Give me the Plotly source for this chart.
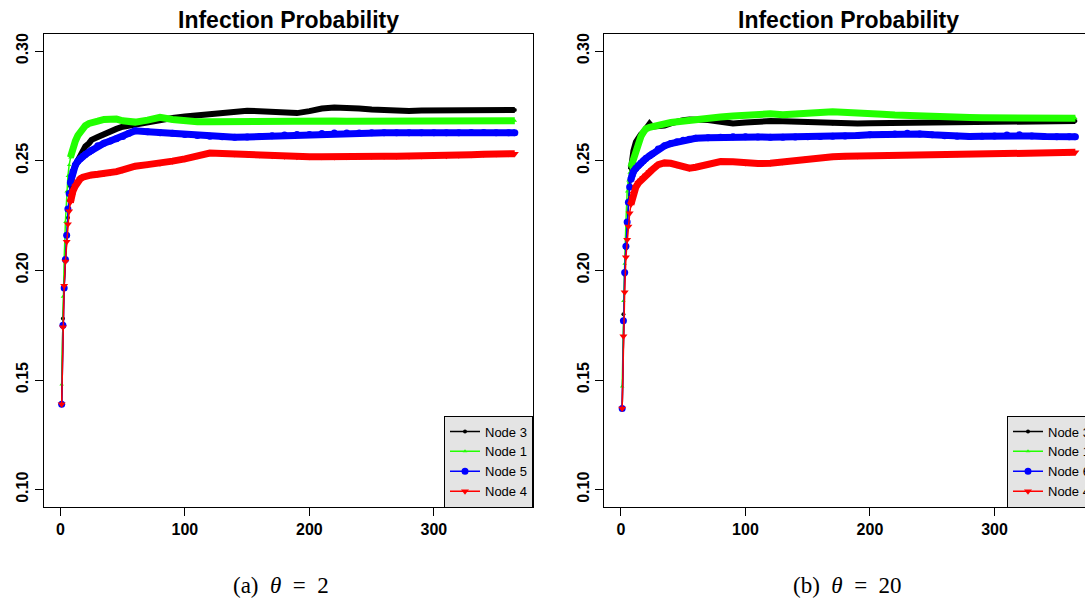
import plotly.graph_objects as go

# ---------------- data ----------------
X = [1, 2, 3, 4, 5, 6, 7, 8, 9, 10, 12, 14, 16, 18, 20, 23, 25, 30, 35, 40, 45, 50, 55, 60,
     70, 80, 90, 100, 110, 120, 130, 140, 150, 160, 170, 180, 190, 200, 210, 220, 230, 240,
     250, 260, 270, 280, 290, 300, 310, 320, 330, 340, 350, 360, 365]

# panel (a) theta = 2
L_node3 = [0.139, 0.178, 0.193, 0.205, 0.216, 0.224, 0.232, 0.238, 0.242, 0.245, 0.248, 0.2505,
           0.2525, 0.2545, 0.2565, 0.258, 0.2595, 0.2608, 0.2622, 0.2635, 0.2645, 0.2655, 0.266,
           0.2668, 0.268, 0.2685, 0.2695, 0.2702, 0.2708, 0.2712, 0.2718, 0.2725, 0.2728, 0.2726,
           0.2722, 0.2718, 0.2717, 0.2726, 0.2738, 0.2743, 0.2742, 0.2738, 0.2733, 0.2729, 0.2728,
           0.2727, 0.2729, 0.273, 0.2731, 0.273, 0.2731, 0.2731, 0.2731, 0.2731, 0.2731]
L_node1 = [0.148, 0.188, 0.205, 0.222, 0.236, 0.243, 0.248, 0.2515, 0.254, 0.256, 0.259, 0.2615,
           0.2635, 0.265, 0.266, 0.267, 0.2675, 0.268, 0.2688, 0.2693, 0.269, 0.2682, 0.2675,
           0.2676, 0.2685, 0.2698, 0.2688, 0.268, 0.2678, 0.2678, 0.2679, 0.268, 0.268, 0.2679,
           0.2678, 0.2679, 0.268, 0.268, 0.2681, 0.2681, 0.268, 0.268, 0.268, 0.2681, 0.2681,
           0.2682, 0.2682, 0.2682, 0.2682, 0.2683, 0.2683, 0.2682, 0.2682, 0.2682, 0.2682]
L_node5 = [0.139, 0.175, 0.192, 0.205, 0.216, 0.228, 0.235, 0.24, 0.243, 0.245, 0.248, 0.2498,
           0.251, 0.252, 0.2528, 0.254, 0.2548, 0.2568, 0.258, 0.259, 0.26, 0.261, 0.2625,
           0.2636, 0.2632, 0.2628, 0.2625, 0.262, 0.2615, 0.2612, 0.2609, 0.2607, 0.2608, 0.261,
           0.2614, 0.2617, 0.2619, 0.262, 0.2624, 0.2626, 0.2626, 0.2626, 0.2627, 0.2627, 0.2627,
           0.2627, 0.2627, 0.2628, 0.2628, 0.2628, 0.2629, 0.2629, 0.2628, 0.2628, 0.2628]
L_node4 = [0.139, 0.174, 0.193, 0.204, 0.213, 0.221, 0.227, 0.231, 0.234, 0.236, 0.2385, 0.2405,
           0.2418, 0.2425, 0.243, 0.2432, 0.2435, 0.2438, 0.244, 0.2445, 0.245, 0.2458, 0.2468,
           0.2475, 0.2482, 0.2488, 0.2498, 0.2508, 0.2522, 0.2535, 0.2533, 0.253, 0.2528, 0.2526,
           0.2522, 0.252, 0.2518, 0.2518, 0.2518, 0.2517, 0.2518, 0.2519, 0.252, 0.252, 0.252,
           0.252, 0.2521, 0.2522, 0.2523, 0.2525, 0.2527, 0.2529, 0.2531, 0.2532, 0.2532]

# panel (b) theta = 20
R_node3 = [0.137, 0.18, 0.198, 0.21, 0.222, 0.232, 0.24, 0.246, 0.251, 0.2545, 0.2585, 0.2605,
           0.262, 0.263, 0.2645, 0.2668, 0.2655, 0.2655, 0.266, 0.267, 0.268, 0.2685, 0.2688,
           0.2688, 0.2686, 0.2678, 0.267, 0.2674, 0.2679, 0.2681, 0.268, 0.2678, 0.2675, 0.2672,
           0.267, 0.2669, 0.267, 0.2671, 0.2672, 0.2673, 0.2674, 0.2675, 0.2675, 0.2675, 0.2675,
           0.2676, 0.2677, 0.2678, 0.2679, 0.268, 0.268, 0.268, 0.2681, 0.2681, 0.2681]
R_node1 = [0.147, 0.186, 0.203, 0.222, 0.236, 0.241, 0.2445, 0.247, 0.249, 0.2505, 0.2545, 0.258,
           0.261, 0.263, 0.2645, 0.2652, 0.2656, 0.2662, 0.2668, 0.2674, 0.2678, 0.2681, 0.2684,
           0.2686, 0.2694, 0.2699, 0.2704, 0.2709, 0.2715, 0.2714, 0.271, 0.2711, 0.2715, 0.272,
           0.2723, 0.2722, 0.272, 0.2716, 0.2712, 0.2708, 0.2705, 0.2702, 0.27, 0.2699, 0.2698,
           0.2697, 0.2696, 0.2696, 0.2695, 0.2695, 0.2694, 0.2694, 0.2693, 0.2693, 0.2693]
R_node6 = [0.137, 0.177, 0.199, 0.211, 0.222, 0.231, 0.238, 0.2415, 0.2435, 0.245, 0.2465, 0.2478,
           0.249, 0.25, 0.251, 0.2522, 0.253, 0.2553, 0.2568, 0.2578, 0.2586, 0.2593, 0.2598,
           0.2602, 0.2605, 0.2607, 0.2609, 0.2609, 0.2608, 0.2607, 0.2607, 0.2608, 0.2609, 0.261,
           0.2611, 0.2613, 0.2615, 0.2618, 0.262, 0.2622, 0.2625, 0.2622, 0.2618, 0.2614, 0.2611,
           0.261, 0.2611, 0.2613, 0.2617, 0.2618, 0.2613, 0.261, 0.2609, 0.2609, 0.2609]
R_node4 = [0.137, 0.17, 0.19, 0.206, 0.214, 0.22, 0.226, 0.23, 0.233, 0.235, 0.238, 0.2398,
           0.241, 0.2422, 0.2433, 0.2448, 0.2458, 0.2482, 0.249, 0.2488, 0.248, 0.2472, 0.2466,
           0.247, 0.2485, 0.2496, 0.2495, 0.249, 0.2487, 0.2488, 0.2494, 0.2503, 0.251, 0.2516,
           0.2518, 0.252, 0.2521, 0.2523, 0.2524, 0.2526, 0.2527, 0.2528, 0.2529, 0.253, 0.2531,
           0.2532, 0.2533, 0.2534, 0.2535, 0.2535, 0.2536, 0.2537, 0.2537, 0.2538, 0.2538]

X_TICKS = [0, 100, 200, 300]
X_TICK_TEXT = ["0", "100", "200", "300"]
Y_TICKS = [0.10, 0.15, 0.20, 0.25, 0.30]
Y_TICK_TEXT = ["0.10", "0.15", "0.20", "0.25", "0.30"]

TITLE = "Infection Probability"
CAPTIONS = ["(a)&nbsp;&nbsp;<i>θ</i>&nbsp;&nbsp;=&nbsp;&nbsp;2",
            "(b)&nbsp;&nbsp;<i>θ</i>&nbsp;&nbsp;=&nbsp;&nbsp;20"]

for arr in (L_node3, L_node1, L_node5, L_node4, R_node3, R_node1, R_node6, R_node4):
    assert len(arr) == len(X)

# ---------------- figure ----------------
W, H = 1085, 602
fig = go.Figure()

STYLES = {
    "black": dict(color="#000000", symbol="circle", size=4, thick=6),
    "green": dict(color="#22ff00", symbol="triangle-up", size=4, thick=7),
    "blue": dict(color="#0000ff", symbol="circle", size=7, thick=7),
    "red": dict(color="#ff0000", symbol="triangle-down", size=7, thick=7),
}

panels = [
    ("x", "y", "legend", [("Node 3", L_node3, "black"), ("Node 1", L_node1, "green"),
                          ("Node 5", L_node5, "blue"), ("Node 4", L_node4, "red")]),
    ("x2", "y2", "legend2", [("Node 3", R_node3, "black"), ("Node 1", R_node1, "green"),
                             ("Node 6", R_node6, "blue"), ("Node 4", R_node4, "red")]),
]

START = 7  # dense part of the series (thick stroke of overlapping markers)
for xa, ya, lg, series in panels:
    for name, vals, key in series:
        st = STYLES[key]
        fig.add_trace(go.Scatter(
            x=X[START:], y=vals[START:], mode="lines", xaxis=xa, yaxis=ya,
            line=dict(color=st["color"], width=st["thick"]), showlegend=False,
            hoverinfo="skip"))
        fig.add_trace(go.Scatter(
            x=X, y=vals, mode="lines+markers", name=name, xaxis=xa, yaxis=ya, legend=lg,
            line=dict(color=st["color"], width=1.5),
            marker=dict(color=st["color"], symbol=st["symbol"], size=st["size"],
                        line=dict(width=0))))

tickfont = dict(family="Liberation Sans", size=16, color="black", weight="bold")
yd = [1 - 507.2 / H, 1 - 33.5 / H]

common_x = dict(tickmode="array", tickvals=X_TICKS, ticktext=X_TICK_TEXT, ticks="outside",
                ticklen=8, tickwidth=1, tickcolor="black", showgrid=False, zeroline=False,
                showline=True, linecolor="black", linewidth=1, mirror=True, tickfont=tickfont)
common_y = dict(tickmode="array", tickvals=Y_TICKS, ticktext=Y_TICK_TEXT, ticks="outside",
                ticklen=8, tickwidth=1, tickcolor="black", showgrid=False, zeroline=False,
                showline=True, linecolor="black", linewidth=1, tickfont=tickfont,
                tickangle=-90, range=[0.092, 0.308], domain=yd)

legend_common = dict(y=1 - 507.5 / H, yanchor="bottom", bgcolor="#e4e4e4",
                     bordercolor="black", borderwidth=1, tracegroupgap=0,
                     font=dict(family="Liberation Sans", size=13, color="black"))

fig.update_layout(
    width=W, height=H,
    margin=dict(l=0, r=0, t=0, b=0, autoexpand=False),
    paper_bgcolor="white", plot_bgcolor="white",
    xaxis=dict(common_x, domain=[43.5 / W, 533 / W], range=[-13.6, 379.6], anchor="y"),
    yaxis=dict(common_y, anchor="x", mirror=True),
    xaxis2=dict(common_x, domain=[604 / W, 1.0], range=[-13.6, 372.7], anchor="y2"),
    yaxis2=dict(common_y, anchor="x2", mirror=False),
    legend=dict(legend_common, x=533 / W, xanchor="right"),
    legend2=dict(legend_common, x=1007 / W, xanchor="left"),
    showlegend=True,
)

for cx in (288 / W, 848 / W):
    fig.add_annotation(text=TITLE, x=cx, y=1 - 35 / H, xref="paper", yref="paper",
                       xanchor="center", yanchor="bottom", showarrow=False,
                       font=dict(family="Liberation Sans", size=23, color="black", weight="bold"))

for cx, cap in zip((281 / W, 847 / W), CAPTIONS):
    fig.add_annotation(text=cap, x=cx, y=1 - 585 / H, xref="paper", yref="paper",
                       xanchor="center", yanchor="middle", showarrow=False,
                       font=dict(family="Liberation Serif", size=23, color="black"))

fig.write_html("out.html")
